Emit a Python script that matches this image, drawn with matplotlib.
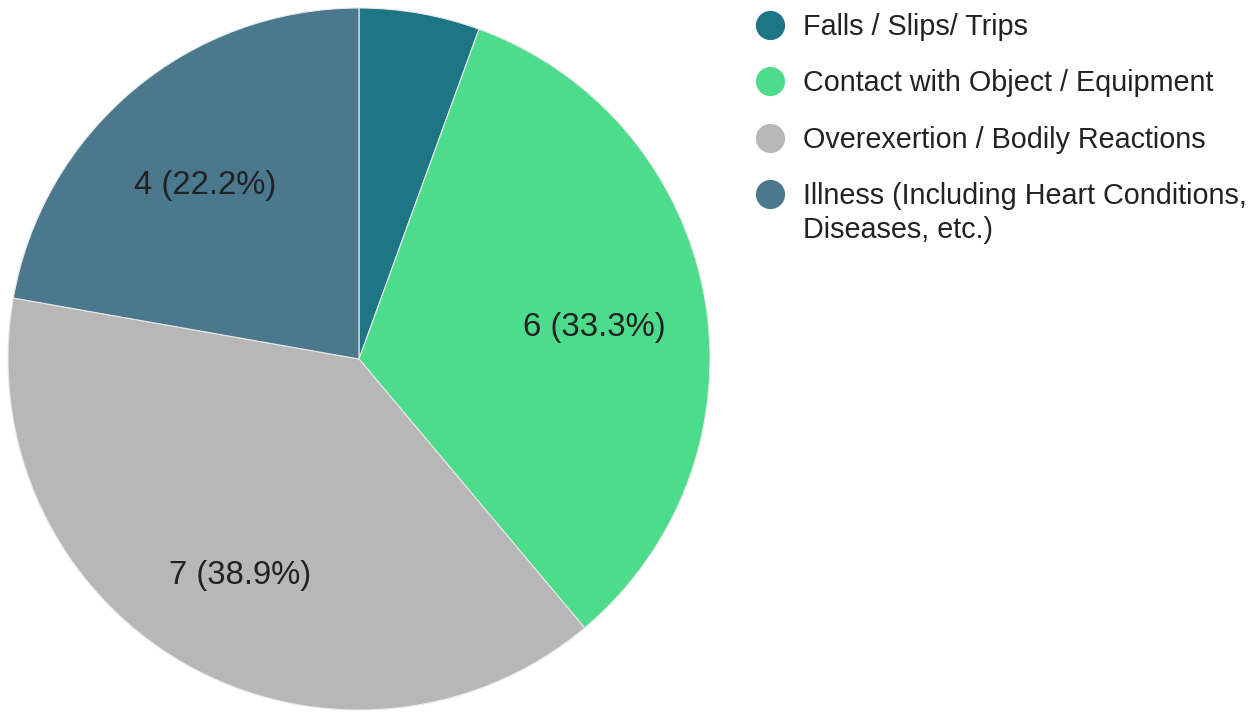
import matplotlib.pyplot as plt
from matplotlib.lines import Line2D

plt.rcParams['font.family'] = ['Liberation Sans', 'DejaVu Sans']

labels = ['Falls / Slips/ Trips', 'Contact with Object / Equipment',
          'Overexertion / Bodily Reactions',
          'Illness (Including Heart Conditions,']
label_tail = 'Diseases, etc.)'
values = [1, 6, 7, 4]
colors = ['#1e7584', '#4ddc8b', '#b7b7b7', '#4a788c']
total = sum(values)


def fmt(pct):
    n = round(pct * total / 100)
    if n < 2:
        return ''
    return '%d (%.1f%%)' % (n, pct)


fig = plt.figure(figsize=(12.49, 7.12), dpi=100)
ax = fig.add_axes([8 / 1249, 2 / 712, 702 / 1249, 702 / 712])
wedges, texts, autotexts = ax.pie(values, colors=colors, startangle=90, counterclock=False,
                                  autopct=fmt, pctdistance=0.68, radius=1,
                                  wedgeprops=dict(edgecolor='#e8e8e8', linewidth=0.8),
                                  textprops=dict(fontsize=23.7, color='#222222'))
# nudge the value labels down a little
for t in autotexts:
    x, y = t.get_position()
    t.set_position((x, y - 0.027))
ax.set_xlim(-1, 1)
ax.set_ylim(-1, 1)
ax.set_aspect('equal')
ax.axis('off')

handles = [Line2D([], [], linestyle='none', marker='o', markersize=20,
                  markerfacecolor=c, markeredgecolor=c) for c in colors]
leg = fig.legend(handles, labels, loc='upper left', bbox_to_anchor=(755.6 / 1249, 699 / 712),
                 frameon=False, fontsize=20.7, labelspacing=0.99, handlelength=1.0,
                 handletextpad=0.65, borderpad=0, borderaxespad=0, labelcolor='#222222')

# second line of the last legend entry
fig.canvas.draw()
bb = leg.get_texts()[-1].get_window_extent()
fig.text(bb.x0 / 1249, (bb.y0 + bb.y1) / 2 / 712 - 34 / 712, label_tail,
         fontsize=20.7, color='#222222', va='center', ha='left')

fig.savefig('out.png', dpi=100, facecolor='white')
